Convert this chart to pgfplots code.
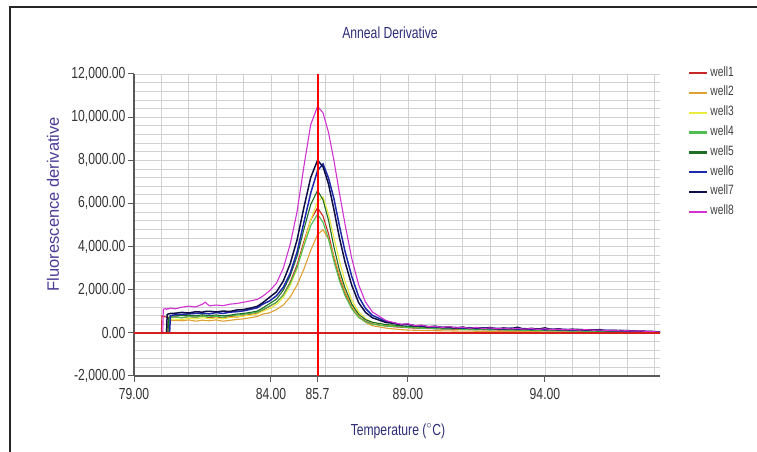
\documentclass[border=0pt]{standalone}
\usepackage{pgfplots}
\usepackage{pgfplotstable}
\pgfplotsset{compat=1.18}
\usepackage{fontspec}
\setmainfont{Liberation Sans}
\newfontfamily\narrowfont{Liberation Sans}[FakeStretch=0.76]

\definecolor{wone}{RGB}{200,40,40}
\definecolor{wtwo}{RGB}{225,160,50}
\definecolor{wthree}{RGB}{235,235,60}
\definecolor{wfour}{RGB}{80,190,80}
\definecolor{wfive}{RGB}{30,110,40}
\definecolor{wsix}{RGB}{30,40,170}
\definecolor{wseven}{RGB}{15,15,70}
\definecolor{weight}{RGB}{210,50,210}
\definecolor{titleblue}{RGB}{45,45,120}
\definecolor{ylabblue}{RGB}{75,60,150}
\definecolor{refred}{RGB}{215,30,30}

\pgfplotstableread{
T     w1   w2   w3   w4   w5   w6   w7   w8
79.95 0    0    0    0    0    0    0    0
80.00 0    0    0    0    0    0    0    0
80.02 790  0    0    0    0    0    0    0
80.05 770  0    0    0    0    0    0    0
80.07 760  0    0    0    0    0    0    1100
80.16 740  0    0    0    0    0    0    1120
80.19 720  0    0    0    0    0    0    1090
80.21 700  0    0    0    0    0    850  1100
80.24 700  520  0    0    0    0    870  1130
80.27 710  540  600  0    700  0    880  1110
80.30 730  560  620  700  760  0    890  1140
80.33 720  570  630  720  780  800  900  1150
80.50 740  580  640  730  790  840  910  1110
80.75 700  560  610  700  800  860  950  1190
81.00 760  600  680  760  820  880  920  1240
81.25 720  540  640  720  790  900  980  1200
81.50 780  590  700  780  840  920  960  1330
81.60 760  570  680  750  820  900  990  1420
81.75 700  560  660  740  800  880  1000 1250
82.00 740  600  690  770  830  940  970  1290
82.25 690  540  650  720  790  900  1010 1260
82.50 760  580  710  800  820  960  990  1330
82.75 730  620  740  820  870  980  1060 1360
83.00 800  650  780  860  900  1020 1080 1420
83.25 850  700  820  900  950  1090 1150 1480
83.50 900  760  880  960  1010 1160 1230 1550
83.70 1050 870  1000 1080 1150 1330 1400 1700
83.95 1230 930  1120 1250 1360 1480 1650 1950
84.20 1410 1080 1320 1420 1560 1720 1900 2300
84.45 1770 1290 1640 1750 1980 2110 2400 3000
84.70 2350 1660 2180 2290 2640 2760 3200 4100
84.95 3140 2210 2980 3020 3550 3740 4300 5600
85.20 4220 2950 4100 4030 4790 5110 5800 7700
85.45 5230 3820 5230 4970 5950 6480 7200 9650
85.70 5800 4560 6080 5500 6600 7520 8000 10500
85.90 5410 4780 6300 5130 6160 7830 7700 10200
86.10 4590 4340 5500 4350 5220 7180 6900 9290
86.30 3480 3550 4410 3300 3970 6210 5700 7980
86.50 2540 2670 3330 2410 2900 4950 4400 6470
86.70 1830 1920 2390 1730 2090 3790 3300 5060
86.95 1160 1230 1510 1110 1330 2610 2200 3440
87.20 750  760  970  710  860  1680 1400 2230
87.45 530  490  660  510  610  1130 950  1430
87.70 420  330  480  400  490  810  700  970
88.20 320  220  360  310  380  530  480  570
88.50 280  180  340  300  360  450  440  470
88.75 260  150  300  270  320  370  380  400
89.00 240  130  280  250  300  390  400  420
89.25 220  120  260  230  280  330  320  330
89.50 210  110  240  210  270  310  340  360
89.75 200  105  230  220  250  290  270  280
90.00 190  100  220  190  240  280  310  300
90.25 180  95   200  180  230  260  240  250
90.50 170  90   210  170  220  240  280  290
90.75 165  85   190  190  210  250  220  230
91.00 160  80   180  160  200  220  270  260
91.25 155  80   190  150  210  240  200  210
91.50 150  75   170  140  190  200  240  250
91.75 145  70   200  160  180  230  210  200
92.00 140  70   160  130  190  190  250  230
92.25 135  65   170  150  170  210  180  190
92.50 130  60   150  140  160  180  230  220
92.75 125  60   160  120  170  220  190  180
93.00 120  55   140  130  150  170  260  210
93.25 115  55   180  110  160  200  160  170
93.50 110  50   140  120  140  160  210  200
93.75 105  50   130  100  150  190  170  160
94.00 100  45   140  110  130  150  230  190
94.25 95   45   120  90   140  170  150  150
94.50 90   40   130  100  120  140  190  170
94.75 85   40   110  90   130  160  140  140
95.00 80   35   120  80   110  130  170  160
95.25 75   35   100  90   120  150  150  130
95.50 70   30   110  70   100  120  140  150
95.75 65   30   90   80   110  140  120  120
96.00 60   25   100  60   90   110  150  130
96.25 55   25   80   70   100  120  100  110
96.50 50   20   90   50   80   100  120  120
96.75 45   20   70   60   90   110  100  90
97.00 40   15   70   40   70   90   110  100
97.25 35   15   60   40   60   80   80   80
97.50 30   10   50   30   50   70   80   90
97.75 25   10   40   30   40   60   70   60
98.00 20   5    30   20   30   50   60   50
98.20 10   0    20   15   20   30   30   30
}\annealdata

% melting temperature marker line
\pgfplotstableread{
T     y
85.7  -2000
85.7  12000
}\tmline

\begin{document}
\begin{tikzpicture}[x=1pt,y=1pt]
\useasboundingbox (0,0) rectangle (757,452);
\draw[line width=1.5pt, black!85] (10,0) -- (10,445) -- (757,445);

\node[font=\narrowfont\fontsize{16}{18}\selectfont, text=titleblue] at (390,419) {Anneal Derivative};
\node[font=\narrowfont\fontsize{16}{18}\selectfont, text=titleblue] at (398,21) {Temperature ($^\circ$C)};
\node[font=\fontsize{16.5}{18}\selectfont, text=ylabblue, rotate=90] at (53,248) {Fluorescence derivative};

\begin{axis}[
  at={(134pt,76pt)}, anchor=south west,
  width=526pt, height=302pt, scale only axis,
  xmin=79, xmax=98.2, ymin=-2000, ymax=12000,
  axis x line*=bottom, axis y line*=left,
  axis line style={black!65, line width=1.3pt},
  xtick={79,84,89,94},
  xticklabels={79.00,84.00,89.00,94.00},
  extra x ticks={85.7},
  extra x tick labels={85.7},
  extra x tick style={grid=none},
  minor xtick={80,81,...,98},
  ytick={-2000,0,2000,4000,6000,8000,10000,12000},
  yticklabels={{-2,000.00},{0.00},{2,000.00},{4,000.00},{6,000.00},{8,000.00},{10,000.00},{12,000.00}},
  scaled y ticks=false,
  minor y tick num=4,
  grid=both,
  major grid style={black!18, line width=0.7pt},
  minor grid style={black!18, line width=0.7pt},
  tick align=outside,
  major tick length=6pt, minor tick length=0pt,
  tick style={black!65, line width=1pt},
  ticklabel style={font=\narrowfont\fontsize{16}{18}\selectfont, text=black!80},
  yticklabel style={xshift=1pt},
  xticklabel style={yshift=-3pt},
  legend cell align=left,
  legend style={at={(1.053,1.03)}, anchor=north west, draw=none, fill=none,
    font=\narrowfont\fontsize{13.5}{15}\selectfont, text=black!75,
    row sep=3.8pt, inner sep=0pt,
    nodes={text height=9pt, text depth=3pt, inner sep=2pt}},
  legend image code/.code={\draw[line width=2.4pt] (0pt,0pt) -- (18pt,0pt);},
]
\addplot[wone, line width=1.1pt] table[x=T, y=w1] {\annealdata};
\addlegendentry{well1}
\addplot[wtwo, line width=1.1pt] table[x=T, y=w2] {\annealdata};
\addlegendentry{well2}
\addplot[wthree, line width=1.1pt] table[x=T, y=w3] {\annealdata};
\addlegendentry{well3}
\addplot[wfour, line width=1.1pt] table[x=T, y=w4] {\annealdata};
\addlegendentry{well4}
\addplot[wfive, line width=1.1pt] table[x=T, y=w5] {\annealdata};
\addlegendentry{well5}
\addplot[wsix, line width=1.5pt] table[x=T, y=w6] {\annealdata};
\addlegendentry{well6}
\addplot[wseven, line width=1.5pt] table[x=T, y=w7] {\annealdata};
\addlegendentry{well7}
\addplot[weight, line width=1.1pt] table[x=T, y=w8] {\annealdata};
\addlegendentry{well8}
% reference lines
\addplot[refred, line width=1.3pt, forget plot] coordinates {(79,0) (98.2,0)};
\addplot[color=red, line width=2pt, forget plot] table[x=T, y=y] {\tmline};
\end{axis}
\end{tikzpicture}
\end{document}
